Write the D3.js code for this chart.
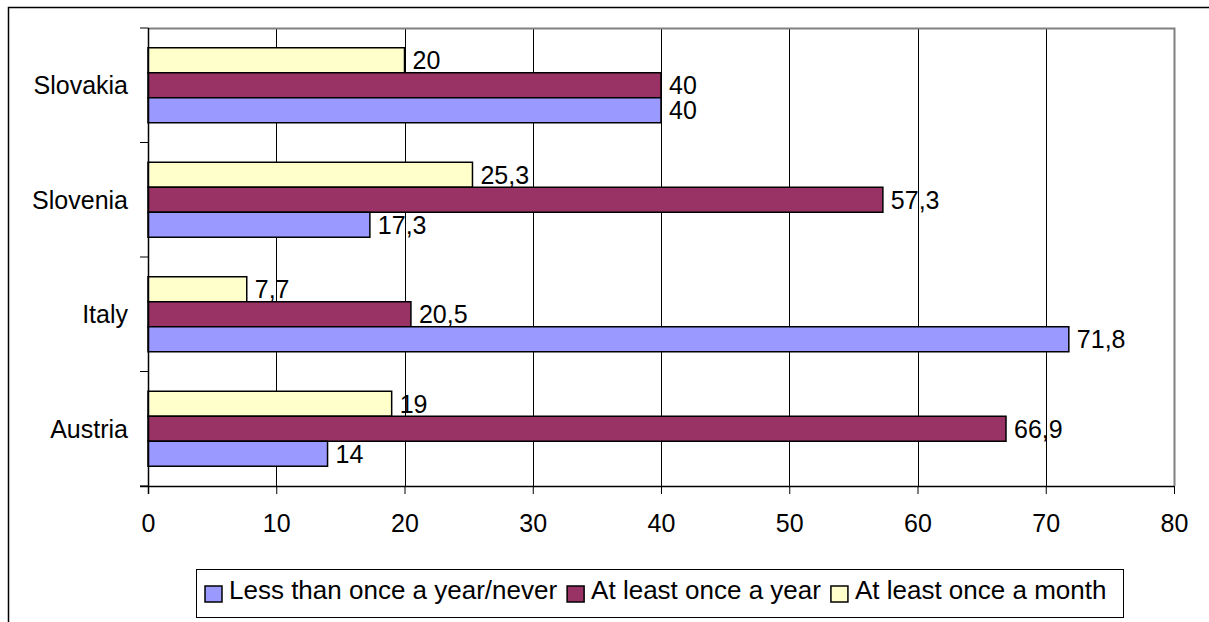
<!DOCTYPE html>
<html><head><meta charset="utf-8">
<script src="https://cdn.jsdelivr.net/npm/d3@7"></script>
<style>body{margin:0;background:#fff}svg{display:block;font-family:"Liberation Sans",Arial,sans-serif}</style>
</head><body>
<svg id="c" width="1209" height="622"></svg>
<script>
const categories = ["Slovakia","Slovenia","Italy","Austria"];
const seriesNames = ["At least once a month","At least once a year","Less than once a year/never"];
const monthly = [20, 25.3, 7.7, 19];
const yearly = [40, 57.3, 20.5, 66.9];
const never = [40, 17.3, 71.8, 14];
const colors = ["#FFFFCC","#993366","#9999FF"];
const xTicks = [0,10,20,30,40,50,60,70,80];
const legendOrder = [2,1,0];

const FONT = "Liberation Sans, Arial, sans-serif";
const svg = d3.select("#c");
const L = 148, R = 1174, T = 28, B = 486;
svg.append("rect").attr("x",8.5).attr("y",7.5).attr("width",1210).attr("height",630)
  .attr("fill","none").attr("stroke","#000").attr("stroke-width",1.5);

const x = d3.scaleLinear().domain([0,80]).range([L,R]);
const y = d3.scaleBand().domain(categories).range([T,B]).paddingInner(0.345).paddingOuter(0.1725);
const ys = d3.scaleBand().domain(seriesNames).range([0,y.bandwidth()]);

// gridlines
svg.append("g").selectAll("line").data(xTicks.slice(1)).join("line")
  .attr("x1",d=>Math.round(x(d))+0.5).attr("x2",d=>Math.round(x(d))+0.5)
  .attr("y1",T).attr("y2",B).attr("stroke","#000").attr("stroke-width",1);
// plot border
svg.append("path").attr("d",`M${L},${T+0.5}H${R+0.5}V${B}`).attr("fill","none").attr("stroke","#808080").attr("stroke-width",2);

const data = [monthly, yearly, never];
const g = svg.append("g");
categories.forEach((c,i)=>{
  data.forEach((arr,s)=>{
    const yy = y(c)+ys(seriesNames[s]);
    g.append("rect").attr("x",x(0)).attr("y",yy).attr("width",x(arr[i])-x(0)).attr("height",ys.bandwidth())
      .attr("fill",colors[s]).attr("stroke","#000").attr("stroke-width",1.5);
    g.append("text").attr("x",x(arr[i])+8).attr("y",yy+ys.bandwidth()/2).attr("dy","0.36em")
      .attr("font-size",25).attr("font-family",FONT).attr("fill","#000").text(String(arr[i]).replace(".",","));
  });
});

// x axis
const xa = svg.append("g").attr("transform",`translate(0,${B})`)
  .call(d3.axisBottom(x).tickValues(xTicks).tickSize(8).tickPadding(20).tickFormat(d3.format("d")));
xa.select(".domain").attr("stroke","#000").attr("stroke-width",1.5).attr("d",`M${L-8},0.5H${R}`);
xa.selectAll(".tick line").attr("stroke","#000");
xa.selectAll("text").attr("font-size",25).attr("font-family",FONT).attr("fill","#000");

// y axis
const ya = svg.append("g").attr("transform",`translate(${L},0)`);
ya.append("line").attr("x1",0.5).attr("x2",0.5).attr("y1",T).attr("y2",B+8).attr("stroke","#000").attr("stroke-width",1.5);
const bounds = categories.map(c=>y(c)-y.step()*y.paddingInner()/2).concat([B]);
ya.selectAll("line.t").data(bounds).join("line").attr("class","t")
  .attr("x1",-8).attr("x2",0).attr("y1",d=>d).attr("y2",d=>d).attr("stroke","#000");
ya.selectAll("text").data(categories).join("text")
  .attr("x",-20).attr("y",d=>y(d)+y.bandwidth()/2).attr("dy","0.36em").attr("text-anchor","end")
  .attr("font-size",25).attr("font-family",FONT).attr("fill","#000").text(d=>d);

// legend
const lg = svg.append("g");
lg.append("rect").attr("x",196.5).attr("y",569.5).attr("width",927).attr("height",48).attr("fill","#fff").attr("stroke","#000").attr("stroke-width",1);
let lx = 205;
legendOrder.forEach(s=>{
  lg.append("rect").attr("x",lx).attr("y",586).attr("width",17).attr("height",16).attr("fill",colors[s]).attr("stroke","#000").attr("stroke-width",1.5);
  const t = lg.append("text").attr("x",lx+24).attr("y",599).attr("font-size",26).attr("font-family",FONT).attr("fill","#000").text(seriesNames[s]);
  lx += 24 + t.node().getComputedTextLength() + 10;
});
</script>
</body></html>
